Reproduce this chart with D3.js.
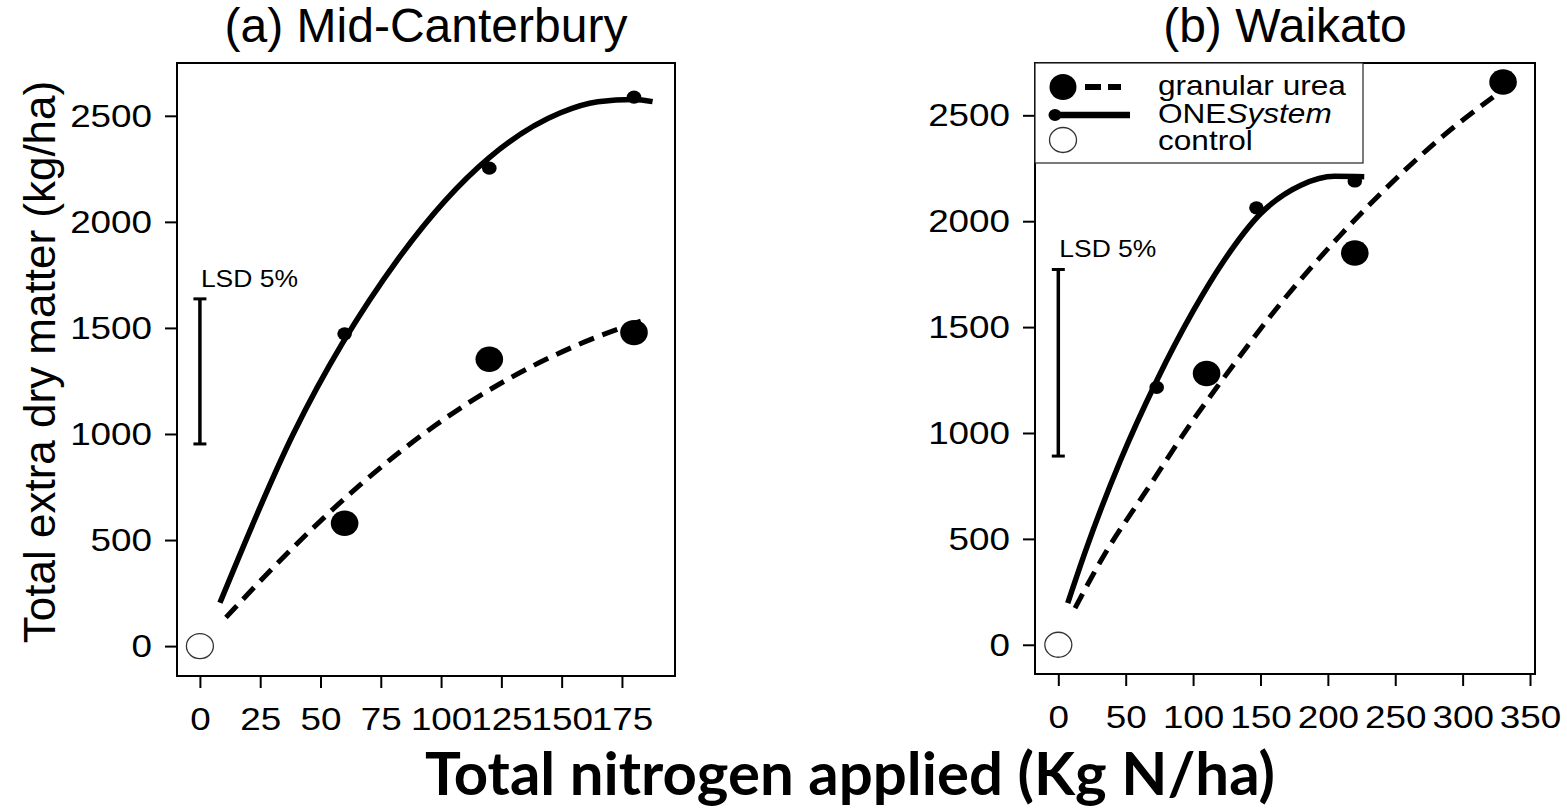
<!DOCTYPE html>
<html>
<head>
<meta charset="utf-8">
<script src="https://cdn.jsdelivr.net/npm/d3@7"></script>
<style>
body { margin: 0; background: #fff; }
</style>
</head>
<body>
<script>
var yTicks = [0, 500, 1000, 1500, 2000, 2500];
var xTicksA = [0, 25, 50, 75, 100, 125, 150, 175];
var xTicksB = [0, 50, 100, 150, 200, 250, 300, 350];

// (a) Mid-Canterbury
var ureaA_N = [60, 120, 180];
var ureaA_DM = [579, 1352, 1478];
var oneA_N = [60, 120, 180];
var oneA_DM = [1472, 2253, 2588];
// fitted lines
var fitUreaA_N = [10.8, 29.7, 66.4, 97.5, 127.2, 156.2, 186.3];
var fitUreaA_DM = [135, 362, 760, 1040, 1255, 1418, 1546];
var fitOneA_N = [8.3, 38.7, 82, 120, 149.3, 165, 180, 187.7];
var fitOneA_DM = [204, 1000, 1822, 2303, 2513, 2566, 2577, 2567];
var lsdA = [953, 1637];

// (b) Waikato
var ureaB_N = [110, 220, 330];
var ureaB_DM = [1281, 1850, 2657];
var oneB_N = [73, 147, 220];
var oneB_DM = [1215, 2063, 2190];
var fitUreaB_N = [12.4, 33.4, 65.6, 102.7, 120, 166.9, 209, 256, 285.6, 322.7];
var fitUreaB_DM = [173, 417, 730, 1085, 1236, 1627, 1932, 2234, 2403, 2587];
var fitOneB_N = [7, 20, 46, 73, 100, 122, 150, 180, 205, 227];
var fitOneB_DM = [197, 440, 869, 1247, 1575, 1805, 2035, 2170, 2212, 2210];
var lsdB = [891, 1772];

var controlN = [0];
var controlDM = [0];

var titles = ['(a) Mid-Canterbury', '(b) Waikato'];
var legendLabels = ['granular urea', 'ONESystem', 'control'];

var font = "'Liberation Sans', Arial, Helvetica, sans-serif";

var svg = d3.select('body').append('svg')
	.attr('width', 1567)
	.attr('height', 811);

// the original plot is a bit stretched sideways
function widen(sel, k) {
	sel.each(function() {
		d3.select(this)
			.attr('textLength', this.getComputedTextLength() * k)
			.attr('lengthAdjust', 'spacingAndGlyphs');
	});
}

function zip(xs, ys) {
	return xs.map(function(v, i) { return { n: v, dm: ys[i] }; });
}

var panels = [
	{ title: titles[0], left: 177, right: 675, top: 63, bottom: 676,
		xDom: [-9.5, 197], yDom: [-141, 2749], xTicks: xTicksA,
		urea: zip(ureaA_N, ureaA_DM), one: zip(oneA_N, oneA_DM),
		fitUrea: zip(fitUreaA_N, fitUreaA_DM), fitOne: zip(fitOneA_N, fitOneA_DM),
		lsd: lsdA, legend: false },
	{ title: titles[1], left: 1035, right: 1535, top: 63, bottom: 674,
		xDom: [-17.3, 353.7], yDom: [-138, 2747], xTicks: xTicksB,
		urea: zip(ureaB_N, ureaB_DM), one: zip(oneB_N, oneB_DM),
		fitUrea: zip(fitUreaB_N, fitUreaB_DM), fitOne: zip(fitOneB_N, fitOneB_DM),
		lsd: lsdB, legend: true }
];

panels.forEach(function(p) {
	var x = d3.scaleLinear().domain(p.xDom).range([p.left, p.right]);
	var y = d3.scaleLinear().domain(p.yDom).range([p.bottom, p.top]);
	var g = svg.append('g');

	// title
	g.append('text')
		.attr('x', (p.left + p.right) / 2)
		.attr('y', 42)
		.attr('text-anchor', 'middle')
		.attr('font-family', font)
		.attr('font-size', '48px')
		.text(p.title);

	// axes
	var yAxis = g.append('g')
		.attr('transform', 'translate(' + p.left + ',0)')
		.call(d3.axisLeft(y).tickValues(yTicks).tickFormat(d3.format('d')).tickSize(12).tickPadding(13));
	var xAxis = g.append('g')
		.attr('transform', 'translate(0,' + p.bottom + ')')
		.call(d3.axisBottom(x).tickValues(p.xTicks).tickFormat(d3.format('d')).tickSize(12).tickPadding(19));
	[xAxis, yAxis].forEach(function(ax) {
		ax.select('.domain').remove();
		ax.selectAll('line').attr('stroke', '#000').attr('stroke-width', 2);
		ax.selectAll('text')
			.attr('font-family', font)
			.attr('font-size', '32px')
			.attr('fill', '#000')
			.call(widen, 1.15);
	});

	// frame
	g.append('rect')
		.attr('x', p.left)
		.attr('y', p.top)
		.attr('width', p.right - p.left)
		.attr('height', p.bottom - p.top)
		.attr('fill', 'none')
		.attr('stroke', '#000')
		.attr('stroke-width', 2);

	// LSD bar
	var lx = x(0);
	g.append('line')
		.attr('x1', lx).attr('x2', lx)
		.attr('y1', y(p.lsd[0])).attr('y2', y(p.lsd[1]))
		.attr('stroke', '#000').attr('stroke-width', 3.5);
	p.lsd.forEach(function(v) {
		g.append('line')
			.attr('x1', lx - 6.5).attr('x2', lx + 6.5)
			.attr('y1', y(v)).attr('y2', y(v))
			.attr('stroke', '#000').attr('stroke-width', 3);
	});
	g.append('text')
		.attr('x', lx + 1)
		.attr('y', y(p.lsd[1]) - 12)
		.attr('font-family', font)
		.attr('font-size', '23px')
		.text('LSD 5%')
		.call(widen, 1.15);

	// points
	g.selectAll('.urea')
		.data(p.urea)
		.enter()
		.append('ellipse')
		.attr('cx', function(d) { return x(d.n); })
		.attr('cy', function(d) { return y(d.dm); })
		.attr('rx', 13.8)
		.attr('ry', 12.7)
		.attr('fill', '#000');

	g.selectAll('.one')
		.data(p.one)
		.enter()
		.append('ellipse')
		.attr('cx', function(d) { return x(d.n); })
		.attr('cy', function(d) { return y(d.dm); })
		.attr('rx', 7.3)
		.attr('ry', 6.6)
		.attr('fill', '#000');

	g.selectAll('.control')
		.data(zip(controlN, controlDM))
		.enter()
		.append('ellipse')
		.attr('cx', function(d) { return x(d.n); })
		.attr('cy', function(d) { return y(d.dm); })
		.attr('rx', 13.5)
		.attr('ry', 12.5)
		.attr('fill', '#fff')
		.attr('stroke', '#333')
		.attr('stroke-width', 1.3);

	// fitted lines
	var line = d3.line()
		.x(function(d) { return x(d.n); })
		.y(function(d) { return y(d.dm); })
		.curve(d3.curveMonotoneX);

	g.append('path')
		.datum(p.fitOne)
		.attr('d', line)
		.attr('fill', 'none')
		.attr('stroke', '#000')
		.attr('stroke-width', 5.5);

	g.append('path')
		.datum(p.fitUrea)
		.attr('d', line)
		.attr('fill', 'none')
		.attr('stroke', '#000')
		.attr('stroke-width', 5)
		.attr('stroke-dasharray', '16,9');

	if (p.legend) {
		var lg = g.append('g');
		lg.append('rect')
			.attr('x', p.left)
			.attr('y', p.top)
			.attr('width', 328)
			.attr('height', 100)
			.attr('fill', '#fff')
			.attr('stroke', '#222')
			.attr('stroke-width', 1.2);

		lg.append('ellipse').attr('cx', 1063).attr('cy', 87).attr('rx', 13.5).attr('ry', 13).attr('fill', '#000');
		lg.append('line').attr('x1', 1085).attr('x2', 1121).attr('y1', 87).attr('y2', 87)
			.attr('stroke', '#000').attr('stroke-width', 6).attr('stroke-dasharray', '16,7');
		lg.append('ellipse').attr('cx', 1055).attr('cy', 115).attr('rx', 6.5).attr('ry', 6).attr('fill', '#000');
		lg.append('line').attr('x1', 1055).attr('x2', 1130).attr('y1', 115).attr('y2', 115)
			.attr('stroke', '#000').attr('stroke-width', 6.5);
		lg.append('ellipse').attr('cx', 1063).attr('cy', 140).attr('rx', 13.5).attr('ry', 12.5)
			.attr('fill', '#fff').attr('stroke', '#333').attr('stroke-width', 1.3);

		lg.append('text').attr('transform', 'translate(1158,95) scale(1.17,1)')
			.attr('font-family', font).attr('font-size', '27px').text(legendLabels[0]);
		var t2 = lg.append('text').attr('transform', 'translate(1158,122.5) scale(1.17,1)')
			.attr('font-family', font).attr('font-size', '27px');
		t2.append('tspan').text(legendLabels[1].slice(0, 3));
		t2.append('tspan').attr('font-style', 'italic').text(legendLabels[1].slice(3));
		lg.append('text').attr('transform', 'translate(1158,150) scale(1.17,1)')
			.attr('font-family', font).attr('font-size', '27px').text(legendLabels[2]);
	}
});

// shared axis titles
svg.append('text')
	.attr('transform', 'translate(55,362) rotate(-90)')
	.attr('text-anchor', 'middle')
	.attr('font-family', font)
	.attr('font-size', '44px')
	.text('Total extra dry matter (kg/ha)');

var xt = svg.append('text')
	.attr('x', 850)
	.attr('y', 795)
	.attr('text-anchor', 'middle')
	.attr('font-family', "Lato, 'Open Sans', sans-serif")
	.attr('font-weight', 'bold')
	.attr('font-size', '50px')
	.text('Total nitrogen applied (Kg N/ha)');
var len = xt.node().getComputedTextLength();
xt.attr('font-size', (50 * 850 / len) + 'px');
</script>
</body>
</html>
